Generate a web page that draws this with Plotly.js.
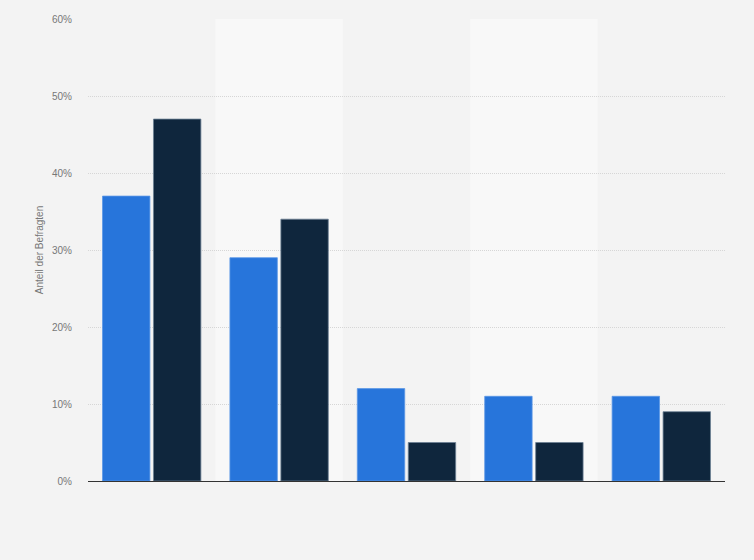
<!DOCTYPE html>
<html>
<head>
<meta charset="utf-8">
<script src="https://cdn.plot.ly/plotly-3.0.1.min.js"></script>
<style>
  html, body { margin: 0; padding: 0; background: #f3f3f3; }
  #chart { width: 754px; height: 560px; }
</style>
</head>
<body>
<div id="chart"></div>
<script>
// Kategorien (im Bild ohne Beschriftung)
var kategorien = ['K1', 'K2', 'K3', 'K4', 'K5'];
// Werte in Prozent
var serie_1 = [37, 29, 12, 11, 11];
var serie_2 = [47, 34, 5, 5, 9];
var y_ticks = [0, 10, 20, 30, 40, 50, 60];
var y_labels = ['0%', '10%', '20%', '30%', '40%', '50%', '60%'];

// Helle Hintergrundstreifen für jede zweite Kategorie
var streifen = [];
for (var i = 1; i < kategorien.length; i += 2) {
    streifen.push({
        type: 'rect', xref: 'x', yref: 'paper', layer: 'below',
        x0: i - 0.5, x1: i + 0.5, y0: 0, y1: 1,
        fillcolor: '#f8f8f8', line: { width: 0 }
    });
}

var data = [{
    type: 'bar', x: kategorien, y: serie_1, name: 'Serie 1',
    marker: { color: '#2775db', line: { color: '#5b97e6', width: 0.8 } },
    hoverinfo: 'y'
}, {
    type: 'bar', x: kategorien, y: serie_2, name: 'Serie 2',
    marker: { color: '#0f263d', line: { color: '#6b7f93', width: 0.8 } },
    hoverinfo: 'y'
}];

var layout = {
    width: 754, height: 560,
    margin: { l: 88, r: 29, t: 19, b: 79 },
    paper_bgcolor: '#f3f3f3',
    plot_bgcolor: '#f3f3f3',
    font: { family: 'Liberation Sans, Arial, sans-serif', size: 10, color: '#777' },
    showlegend: false,
    barmode: 'group',
    bargap: 0.2,
    bargroupgap: 0.07,
    shapes: streifen,
    xaxis: {
        type: 'category',
        showticklabels: false,
        showgrid: false,
        showline: true, linecolor: '#333', linewidth: 1,
        ticks: '', zeroline: false, fixedrange: true
    },
    yaxis: {
        range: [0, 60],
        tickvals: y_ticks, ticktext: y_labels,
        showgrid: true, gridcolor: '#d6d6d6', griddash: '1px,1px', gridwidth: 1,
        zeroline: false, showline: false, ticks: '',
        ticklabelstandoff: 15,
        tickfont: { size: 10, color: '#777' },
        title: { text: 'Anteil der Befragten', font: { size: 10, color: '#777' }, standoff: 6 },
        fixedrange: true
    }
};

Plotly.newPlot('chart', data, layout, { displayModeBar: false, staticPlot: true });
</script>
</body>
</html>
